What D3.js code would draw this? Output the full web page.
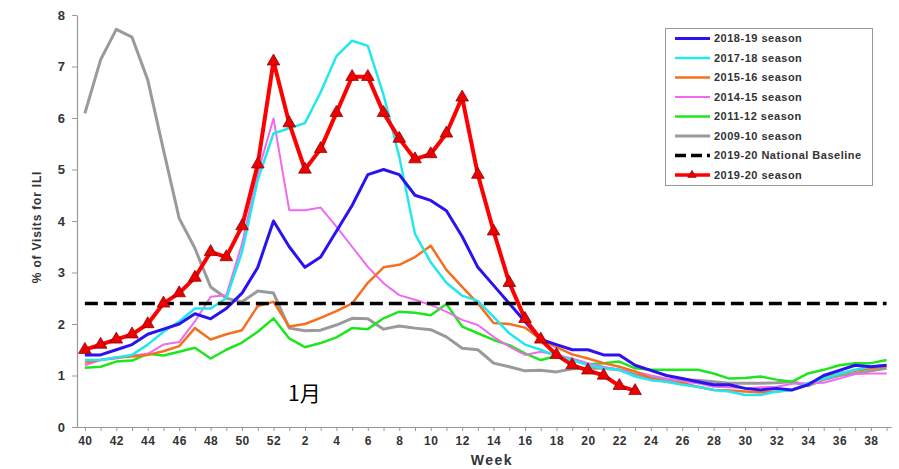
<!DOCTYPE html>
<html>
<head>
<meta charset="utf-8">
<script src="https://cdn.jsdelivr.net/npm/d3@7/dist/d3.min.js"></script>
<style>
  html, body { margin: 0; padding: 0; background: #fff; }
  svg { display: block; font-family: "Liberation Sans", Arial, sans-serif; }
</style>
</head>
<body>
<svg id="chart" width="899" height="469"></svg>
<script>
// ---- data ----
const weeks = [40,41,42,43,44,45,46,47,48,49,50,51,52,1,2,3,4,5,6,7,8,9,10,11,12,13,14,15,16,17,18,19,20,21,22,23,24,25,26,27,28,29,30,31,32,33,34,35,36,37,38,39];

const s2009_10 = [6.09,7.13,7.72,7.57,6.74,5.38,4.05,3.47,2.72,2.5,2.43,2.64,2.6,
  1.92,1.87,1.88,1.98,2.11,2.1,1.9,1.96,1.92,1.89,1.75,1.53,1.5,1.24,
  1.17,1.09,1.1,1.07,1.13,1.14,1.14,1.11,1.02,0.96,0.92,0.91,0.91,0.88,0.85,0.85,0.85,0.86,0.88,0.8,0.92,1.0,1.04,1.09,1.14];
const s2011_12 = [1.15,1.17,1.27,1.29,1.42,1.39,1.46,1.54,1.33,1.5,1.64,1.85,2.11,
  1.72,1.55,1.63,1.74,1.92,1.9,2.11,2.24,2.22,2.17,2.39,1.95,1.82,1.69,
  1.59,1.43,1.3,1.38,1.3,1.22,1.24,1.27,1.14,1.11,1.11,1.11,1.11,1.04,0.94,0.95,0.98,0.92,0.88,1.04,1.11,1.2,1.24,1.24,1.3];
const s2014_15 = [1.2,1.3,1.33,1.39,1.42,1.6,1.65,2.05,2.53,2.56,3.56,4.93,5.99,
  4.21,4.21,4.26,3.89,3.5,3.11,2.79,2.56,2.47,2.37,2.24,2.08,1.98,1.75,
  1.56,1.4,1.46,1.4,1.33,1.24,1.17,1.11,1.08,1.0,0.94,0.88,0.85,0.78,0.77,0.75,0.77,0.78,0.84,0.85,0.86,0.94,1.03,1.04,1.04];
const s2015_16 = [1.25,1.3,1.35,1.37,1.4,1.47,1.57,1.92,1.7,1.8,1.88,2.35,2.43,
  1.95,2.0,2.12,2.25,2.4,2.8,3.1,3.15,3.3,3.52,3.05,2.72,2.4,2.02,
  2.0,1.93,1.7,1.55,1.41,1.33,1.24,1.17,1.08,0.94,0.88,0.85,0.78,0.72,0.71,0.69,0.67,0.69,0.72,0.82,0.98,1.05,1.09,1.14,1.18];
const s2017_18 = [1.3,1.3,1.35,1.4,1.6,1.85,2.05,2.3,2.3,2.5,3.4,4.8,5.7,
  5.8,5.9,6.5,7.2,7.5,7.4,6.45,5.25,3.75,3.2,2.8,2.55,2.45,2.14,
  1.82,1.6,1.5,1.38,1.3,1.2,1.14,1.11,0.98,0.91,0.88,0.82,0.78,0.72,0.69,0.62,0.62,0.69,0.72,0.85,0.94,1.04,1.11,1.17,1.2];
const s2018_19 = [1.4,1.4,1.5,1.6,1.8,1.9,2.0,2.2,2.1,2.3,2.6,3.1,4.0,
  3.5,3.1,3.3,3.8,4.3,4.9,5.0,4.9,4.5,4.4,4.2,3.7,3.1,2.75,
  2.4,2.05,1.7,1.6,1.5,1.5,1.4,1.4,1.2,1.1,1.0,0.94,0.88,0.82,0.82,0.75,0.72,0.75,0.72,0.82,1.0,1.1,1.2,1.17,1.2];
const s2019_20 = [1.5,1.6,1.7,1.8,2.0,2.4,2.6,2.9,3.4,3.3,3.9,5.1,7.1,
  5.9,5.0,5.4,6.1,6.8,6.8,6.1,5.6,5.2,5.3,5.7,6.4,4.9,3.8,2.8,2.1,1.7,1.4,1.2,1.1,1.0,0.8,0.7];
const baselineValue = 2.4;

const yTicks = [0,1,2,3,4,5,6,7,8];
const seriesNames = ["2018-19 season","2017-18 season","2015-16 season","2014-15 season","2011-12 season","2009-10 season"];
const seriesColors = ["#2b12f0","#22e8ee","#f5701e","#f06af0","#1ee61e","#9a9a9a"];
const seriesWidths = [3,2.5,2.5,2,2.5,3];
const seriesValues = [s2018_19,s2017_18,s2015_16,s2014_15,s2011_12,s2009_10];
const baselineName = "2019-20 National Baseline";
const currentName = "2019-20 season";
const annotation = "1月";

// ---- chart ----
const svg = d3.select("#chart");
const x = d3.scaleLinear().domain([-0.5, 51.3]).range([77, 891.3]);
const y = d3.scaleLinear().domain([0, 8]).range([427, 15]);
const textColor = "#333";

// axes
const xAxis = d3.axisBottom(x)
  .tickValues(d3.range(0, weeks.length))
  .tickFormat(i => i % 2 === 0 ? weeks[i] : "")
  .tickSize(4).tickSizeOuter(0).tickPadding(5);
const gx = svg.append("g").attr("transform", "translate(0,427)").call(xAxis);
gx.select(".domain").attr("stroke", "#999").attr("stroke-width", 1.2);
gx.selectAll(".tick line").attr("stroke", "#999");
gx.selectAll("text").attr("fill", textColor).attr("font-size", 12).attr("font-weight", "bold").style("letter-spacing", "0.5px");

const yAxis = d3.axisLeft(y).tickValues(yTicks).tickSize(5).tickSizeOuter(0).tickPadding(7);
const gy = svg.append("g").attr("transform", "translate(77,0)").call(yAxis);
gy.select(".domain").attr("stroke", "#999").attr("stroke-width", 1.2);
gy.selectAll(".tick line").attr("stroke", "#999");
gy.selectAll("text").attr("fill", textColor).attr("font-size", 13).attr("font-weight", "bold");

// axis titles
svg.append("text").attr("x", 492).attr("y", 465).attr("text-anchor", "middle")
  .attr("fill", textColor).attr("font-size", 14).attr("font-weight", "bold")
  .style("letter-spacing", "1.5px").text("Week");
svg.append("text").attr("transform", "translate(41,227) rotate(-90)").attr("text-anchor", "middle")
  .attr("fill", textColor).attr("font-size", 12).attr("font-weight", "bold")
  .style("letter-spacing", "0.8px").text("% of Visits for ILI");

const line = d3.line().x((d, i) => x(i)).y(d => y(d));

// season lines (draw in reverse so 2018-19 ends up on top)
for (let k = seriesValues.length - 1; k >= 0; k--) {
  svg.append("path").datum(seriesValues[k]).attr("d", line)
    .attr("fill", "none").attr("stroke", seriesColors[k])
    .attr("stroke-width", seriesWidths[k]).attr("stroke-linejoin", "round");
}

// baseline
svg.append("path").datum(weeks.map(() => baselineValue)).attr("d", line)
  .attr("fill", "none").attr("stroke", "#000").attr("stroke-width", 3.5)
  .attr("stroke-dasharray", "13,6");

// current season
svg.append("path").datum(s2019_20).attr("d", line)
  .attr("fill", "none").attr("stroke", "#ff0000").attr("stroke-width", 4)
  .attr("stroke-linejoin", "round");
const tri = d3.symbol().type(d3.symbolTriangle).size(70);
svg.append("g").selectAll("path").data(s2019_20).join("path")
  .attr("transform", (d, i) => `translate(${x(i)},${y(d)})`)
  .attr("d", tri).attr("fill", "#ee0000").attr("stroke", "#7a0000").attr("stroke-width", 0.7);

// annotation
svg.append("text").attr("x", 288).attr("y", 401).attr("fill", "#000")
  .attr("font-family", "'Noto Sans CJK JP', 'Noto Sans', sans-serif").attr("font-size", 21)
  .text(annotation);

// legend
const lg = svg.append("g");
lg.append("rect").attr("x", 665.5).attr("y", 28.5).attr("width", 207).attr("height", 157)
  .attr("fill", "#fff").attr("stroke", "#999").attr("stroke-width", 1);
const legendItems = seriesNames.map((n, k) => ({name: n, color: seriesColors[k], w: seriesWidths[k], dash: null, marker: false}))
  .concat([{name: baselineName, color: "#000", w: 3.5, dash: "11,5", marker: false},
           {name: currentName, color: "#ff0000", w: 3.5, dash: null, marker: true}]);
legendItems.forEach((it, k) => {
  const yy = 38.5 + k * 19.5;
  lg.append("line").attr("x1", 675).attr("x2", 710).attr("y1", yy).attr("y2", yy)
    .attr("stroke", it.color).attr("stroke-width", it.w)
    .attr("stroke-dasharray", it.dash);
  if (it.marker) {
    lg.append("path").attr("transform", `translate(692,${yy})`)
      .attr("d", d3.symbol().type(d3.symbolTriangle).size(30))
      .attr("fill", "#ee0000").attr("stroke", "#7a0000").attr("stroke-width", 0.6);
  }
  lg.append("text").attr("x", 714).attr("y", yy).attr("dy", "0.35em")
    .attr("fill", textColor).attr("font-size", 11).attr("font-weight", "bold")
    .style("letter-spacing", "0.5px").text(it.name);
});
</script>
</body>
</html>
